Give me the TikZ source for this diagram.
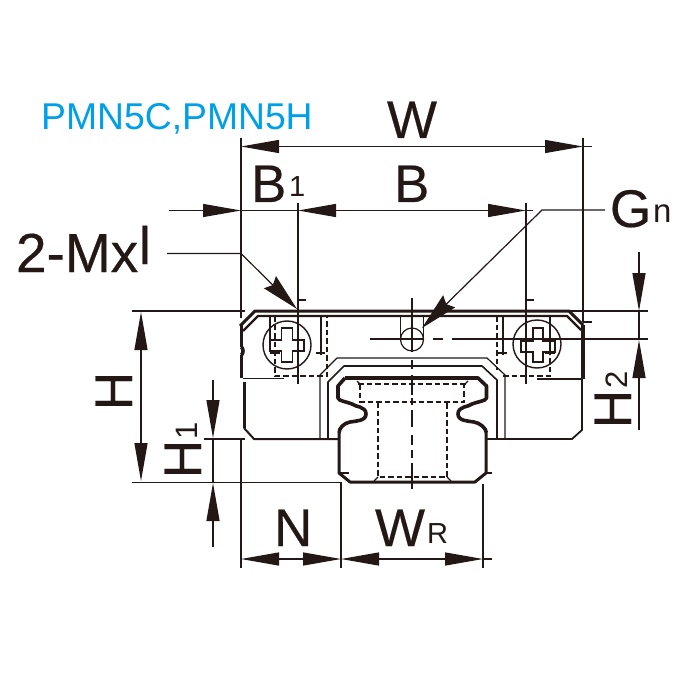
\documentclass[tikz,border=0pt]{standalone}
\usepackage{fontspec}
\setmainfont[FakeBold=0.35]{Liberation Sans}
\newfontfamily\plainf{Liberation Sans}
\usetikzlibrary{arrows.meta}
\definecolor{ink}{HTML}{231815}
\definecolor{sky}{HTML}{00A0E9}
\tikzset{
  dim/.style={draw=ink,line width=1.2pt},
  tipA/.style={-{Triangle[length=38pt,width=13pt]}},
  tipB/.style={{Triangle[length=38pt,width=13pt]}-{Triangle[length=38pt,width=13pt]}},
  tipL/.style={-{Stealth[length=38pt,width=17pt,inset=4pt]}},
  thin line/.style={draw=ink,line width=1.2pt},
  edge line/.style={draw=ink,line width=3pt},
  fat line/.style={draw=ink,line width=3.6pt},
  hid/.style={draw=ink,line width=1.2pt,dash pattern=on 5.5pt off 3pt},
  lab/.style={text=ink,font=\fontsize{53}{53}\selectfont,inner sep=0pt,outer sep=0pt,anchor=base west},
  sub/.style={text=ink,font=\plainf\fontsize{29}{29}\selectfont,inner sep=0pt,outer sep=0pt,anchor=base west},
  rlab/.style={text=ink,font=\fontsize{53}{53}\selectfont,inner sep=0pt,outer sep=0pt,anchor=base,rotate=90},
  rsub/.style={text=ink,font=\plainf\fontsize{31}{31}\selectfont,inner sep=0pt,outer sep=0pt,anchor=base,rotate=90},
}
\begin{document}
\begin{tikzpicture}[x=1pt,y=-1pt]
\useasboundingbox (0,0) rectangle (700,700);
\fill[white] (0,0) rectangle (700,700);

% ---- text
\node[text=sky,font=\plainf\fontsize{37.3}{37.3}\selectfont,inner sep=0pt,anchor=base west] (title) at (41,130) {PMN5C,PMN5H};
\node[lab] (tW) at (387,138) {W};
\node[lab] (tB1) at (251,202) {B};
\node[sub] (tB1s) at (289,197) {1};
\node[lab] (tB) at (394,202) {B};
\node[lab,font=\fontsize{55}{55}\selectfont] (tM) at (16,272) {2-Mx};
\node[lab] (tl) at (139,264) {l};
\node[lab] (tG) at (610,227) {G};
\node[sub,font=\plainf\fontsize{33}{33}\selectfont] (tGs) at (653,223) {n};
\node[lab] (tN) at (274,546) {N};
\node[lab] (tWR) at (375,546) {W};
\node[sub] (tWRs) at (427,543) {R};
\node[rlab] (tH) at (132,391) {H};
\node[rlab] (tH1) at (201,459) {H};
\node[rsub] (tH1s) at (197,431) {1};
\node[rlab] (tH2) at (631,409) {H};
\node[rsub] (tH2s) at (627,380) {2};

% ---- extension lines
\draw[thin line] (241,138)--(241,318);
\draw[thin line] (241,440)--(241,568);
\draw[thin line] (583,138)--(583,322);
\draw[thin line] (298,203)--(298,292);
\draw[thin line] (526,203)--(526,292);
\draw[thin line] (132,311)--(245,311);
\draw[thin line] (132,482.5)--(341,482.5);
\draw[thin line] (204,439)--(245,439);
\draw[thin line] (341,482)--(341,568);
\draw[thin line] (483,484)--(483,568);
\draw[thin line] (569,311)--(648,311);
\draw[thin line] (452,339)--(648,339);
\draw[thin line] (433,339)--(443,339);
\draw[thin line] (370,339)--(424,339);

% ---- dimension arrows
\coordinate (wl) at (241,146.5); \coordinate (wr) at (583,146.5);
\draw[dim,tipB] (wl)--(wr);
\draw[thin line] (wr)--(592,146.5);
\coordinate (b0) at (169,210.5); \coordinate (b1) at (241,210.5);
\coordinate (b2) at (298,210.5); \coordinate (b3) at (526,210.5);
\draw[dim,tipA] (b0)--(b1);
\draw[thin line] (b1)--(b2);
\draw[dim,tipB] (b2)--(b3);
\draw[thin line] (b3)--(533,210.5);
\coordinate (h0) at (141,312); \coordinate (h1) at (141,481);
\draw[dim,tipB] (h0)--(h1);
\coordinate (ha) at (213,380); \coordinate (hb) at (213,438);
\draw[dim,tipA] (ha)--(hb);
\coordinate (hc) at (213,547); \coordinate (hd) at (213,483);
\draw[dim,tipA] (hc)--(hd);
\draw[thin line] (213,438)--(213,483);
\coordinate (ka) at (639,252); \coordinate (kb) at (639,311);
\draw[dim,tipA] (ka)--(kb);
\coordinate (kc) at (639,430); \coordinate (kd) at (639,340);
\draw[dim,tipA] (kc)--(kd);
\draw[thin line] (639,311)--(639,340);
\coordinate (n0) at (241,559); \coordinate (n1) at (341,559); \coordinate (n2) at (483,559);
\draw[dim,tipB] (n0)--(n1);
\draw[dim,tipB] (n1)--(n2);
\draw[thin line] (n2)--(492,559);

% ---- leaders
\coordinate (m0) at (167,253.5); \coordinate (m1) at (241,253.5); \coordinate (m2) at (297,309);
\draw[dim,tipL] (m0)--(m1)--(m2);
\coordinate (g0) at (605,210); \coordinate (g1) at (542,210); \coordinate (g2) at (422,328);
\draw[dim,tipL] (g0)--(g1)--(g2);

% ---- carriage outline
\draw[edge line,line join=round] (240,326)--(255,311)--(569,311)--(583,325);
\draw[line width=2.2pt,draw=ink,line join=round] (243,331)--(258,316)--(567,316)--(581,330);
\draw[fat line] (583,325)--(583,379);
\draw[fat line] (241.5,325)--(241.5,347);
\draw[fat line] (241.5,347) .. controls (243.5,349) and (243.5,353) .. (241.5,355);
\draw[fat line] (241.5,355)--(241.5,378);
\draw[edge line] (244,382)--(244,428);
\draw[line width=2pt,draw=ink,line join=round] (244,428)--(254,439)--(339,439);
\draw[line width=1.8pt,draw=ink,line join=round] (582,379)--(582,430)--(572,439)--(486,439);
\draw[thin line] (243,378.5)--(284,378.5);
\draw[thin line] (537,379)--(583,379);

% carriage inner contours
\draw[thin line,line join=round] (320,439)--(320,375)--(337,358)--(487,358)--(505,375)--(505,439);
\draw[line width=1.6pt,draw=ink,line join=round] (328,439)--(328,382)--(344,366)--(482,366)--(497,380)--(497,439);

% ---- rail
\draw[fat line,line join=round]
  (345,378)--(478,378)--(486.5,386)--(486.5,398)
  .. controls (486.5,401) and (476,402) .. (472,404)
  .. controls (469,407) and (458,406) .. (458,414)
  .. controls (458,421) and (468,421) .. (474,422)
  .. controls (480,423) and (486,428) .. (486.5,433);
\draw[fat line,line join=round]
  (345,378)--(338,386)--(338,398)
  .. controls (338,401) and (348,402) .. (352,404)
  .. controls (355,407) and (366,406) .. (366,414)
  .. controls (366,421) and (356,421) .. (350,422)
  .. controls (344,423) and (339,428) .. (339,433);
\draw[edge line,line join=round] (339,433)--(339,473)--(350,482)--(475,482)--(486,473)--(486,433);
\draw[thin line] (339,473)--(349,473);
\draw[thin line] (485,473)--(492,473);

% rail hidden lines
\draw[hid] (358,384)--(466,384);
\draw[hid] (360,384)--(360,402)--(464,402)--(464,384);
\draw[hid] (378,402)--(378,477)--(447,477)--(447,402);
\draw[thin line] (357,381)--(360,384);
\draw[thin line] (465,384)--(468,381);
\draw[thin line] (378,477)--(374,481);
\draw[thin line] (447,477)--(451,481);

% ---- centre line
\draw[thin line] (412,298)--(412,352);
\draw[thin line] (412,360)--(412,369);
\draw[thin line] (412,375)--(412,395);
\draw[thin line] (412,398)--(412,405);
\draw[thin line] (412,410)--(412,427);
\draw[thin line] (412,435)--(412,445);
\draw[thin line] (412,450)--(412,458);
\draw[thin line] (412,463)--(412,489);

% ---- grease nipple
\draw[thin line] (412,339.5) circle[radius=11.5];
\draw[thin line] (400.5,317)--(400.5,339);
\draw[thin line] (423.5,317)--(423.5,339);

% ---- left screw
\draw[line width=1.4pt,draw=ink] (287,345) circle[radius=24];
\draw[thin line] (298,292)--(298,384);
\draw[thin line] (298,300)--(306,300);
\draw[line width=1.4pt,draw=ink]
 (281.5,328)--(292.5,328)--(292.5,340)--(304,340)--(304,351)--(292.5,351)--(292.5,362)--(281.5,362)--(281.5,351)--(270,351)--(270,340)--(281.5,340)--cycle;
\draw[thin line] (270,316)--(270,350);
\draw[thin line] (321,316)--(321,355);
\draw[hid] (275,316)--(275,376)--(327,376)--(327,316);
\draw[thin line] (270,353)--(280,353);
\draw[thin line] (316,353)--(325,353);

% ---- right screw
\draw[line width=1.4pt,draw=ink] (537,344) circle[radius=24];
\draw[thin line] (526,292)--(526,384);
\draw[thin line] (526,300)--(534,300);
\draw[line width=1.4pt,draw=ink]
 (533,328)--(543,328)--(543,341)--(555,341)--(555,352)--(543,352)--(543,362)--(533,362)--(533,352)--(521,352)--(521,341)--(533,341)--cycle;
\draw[thin line] (503,316)--(503,355);
\draw[thin line] (550,316)--(550,355);
\draw[hid] (497,316)--(497,370);
\draw[hid] (503,376)--(550,376)--(550,355);
\draw[thin line] (498,353)--(507,353);
\draw[thin line] (545,353)--(555,353);
\draw[thin line] (583,322)--(592,322);
\end{tikzpicture}
\end{document}
